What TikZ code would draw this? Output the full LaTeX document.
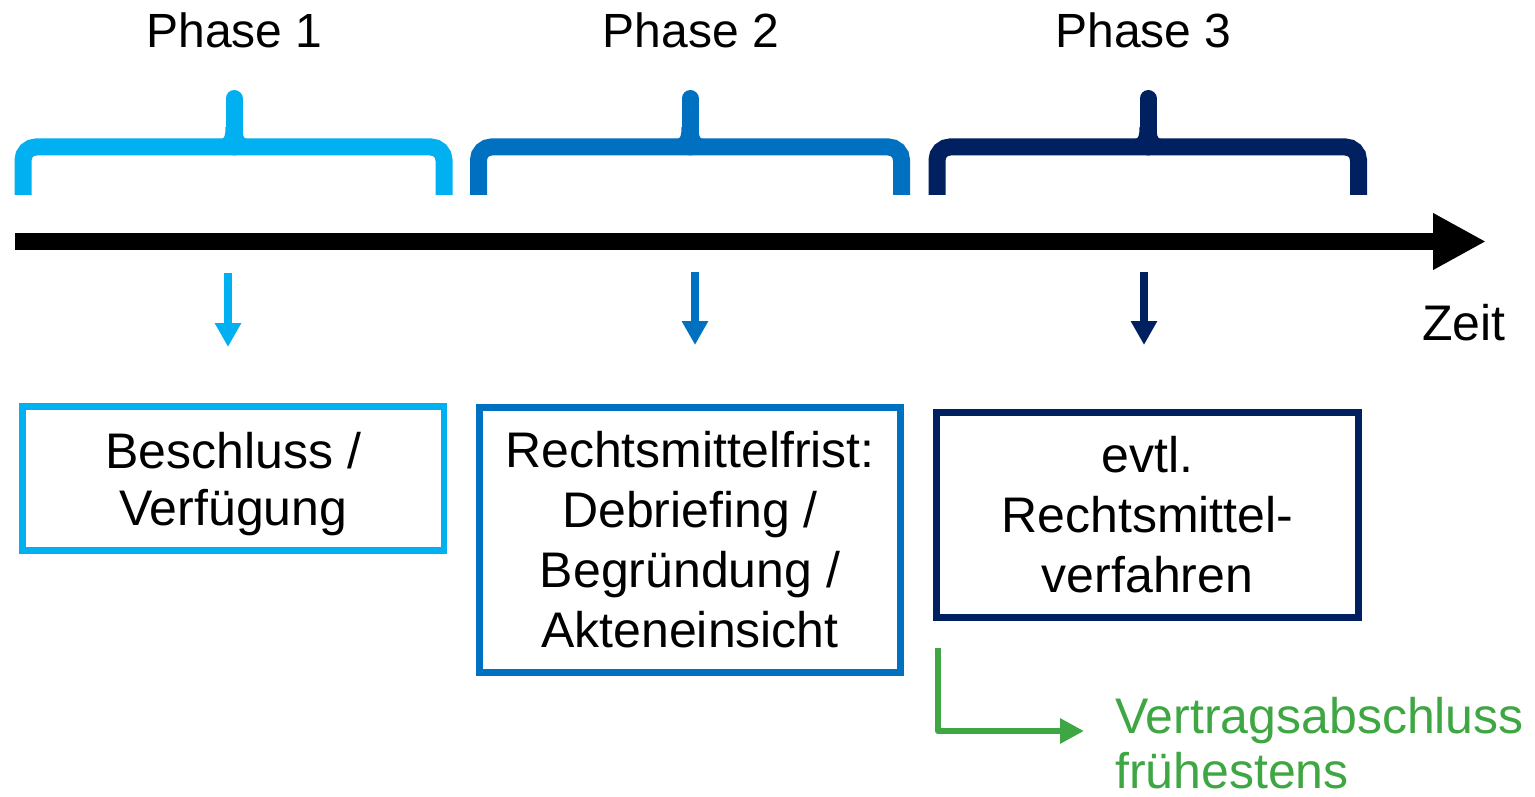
\documentclass[tikz,border=0pt]{standalone}
\usepackage{fontspec}
\setmainfont{Liberation Sans}
\usetikzlibrary{arrows.meta}
\definecolor{cA}{RGB}{0,176,240}
\definecolor{cB}{RGB}{0,112,192}
\definecolor{cC}{RGB}{0,32,96}
\definecolor{cG}{RGB}{62,166,66}
\begin{document}
\begin{tikzpicture}[x=1pt,y=-1pt,
  bracebar/.style={line width=17pt, rounded corners=13pt},
  bracetip/.style={line width=17pt, line cap=round},
  box/.style={draw, line width=6.5pt, align=center, inner sep=0pt,
    font=\fontsize{50}{60}\selectfont},
  phase/.style={anchor=base, font=\fontsize{48}{58}\selectfont},
  down/.style={line width=8pt, -{Triangle[length=24pt,width=25pt]}},
]
\useasboundingbox (0,0) rectangle (1535,797);

% braces
\foreach \l/\t/\r/\c in {23/234/444/cA, 478.5/690/901.5/cB, 937/1148/1358.5/cC}{
  \draw[bracebar, \c] (\l,195) |- (\t,147) -| (\r,195);
  \draw[bracetip, \c] (\t,147) -- (\t,98.5);
  \fill[\c] (\t-13,139) .. controls (\t-9.5,139) and (\t-8.5,135) .. (\t-8.5,127)
     -- (\t+8.5,127) .. controls (\t+8.5,135) and (\t+9.5,139) .. (\t+13,139) -- cycle;
}

% phase labels
\node[phase] (p1) at (234.5,48) {Phase 1};
\node[phase] (p2) at (691,48) {Phase 2};
\node[phase] (p3) at (1143.5,48) {Phase 3};

% time axis
\coordinate (t0) at (15,241.5);
\coordinate (t1) at (1486,241.5);
\draw[line width=17pt, -{Triangle[length=53pt,width=53pt]}] (t0) -- (t1);
\node[anchor=base west, inner sep=0pt, font=\fontsize{50}{60}\selectfont] (zeit) at (1422,340) {Zeit};

% small arrows
\coordinate (a1s) at (228,273); \coordinate (a1e) at (228,347);
\coordinate (a2s) at (695,272); \coordinate (a2e) at (695,345);
\coordinate (a3s) at (1144,272); \coordinate (a3e) at (1144,345);
\draw[down, cA] (a1s) -- (a1e);
\draw[down, cB] (a2s) -- (a2e);
\draw[down, cC] (a3s) -- (a3e);

% boxes
\node[box, draw=cA, minimum width=421.5pt, minimum height=144pt] (b1) at (233.25,478.5)
  {Beschluss /\\[-3pt]\raisebox{0pt}[\height][0pt]{Verfügung}};
\node[box, draw=cB, minimum width=421pt, minimum height=265pt] (b2) at (690,540)
  {Rechtsmittelfrist:\\Debriefing /\\Begründung /\\Akteneinsicht};
\node[box, draw=cC, minimum width=422pt, minimum height=205pt] (b3) at (1147.5,515)
  {evtl.\\Rechtsmittel-\\verfahren};

% green connector
\coordinate (g0) at (938,648);
\coordinate (g1) at (1084,731);
\draw[cG, line width=6pt, line join=round, -{Triangle[length=24pt,width=24pt]}] (g0) |- (g1);
\node[anchor=base west, inner sep=0pt, align=left, text=cG,
  font=\fontsize{50}{55}\selectfont] (vt) at (1115,788) {Vertragsabschluss\\\raisebox{0pt}[\height][0pt]{frühestens}};
\end{tikzpicture}
\end{document}
